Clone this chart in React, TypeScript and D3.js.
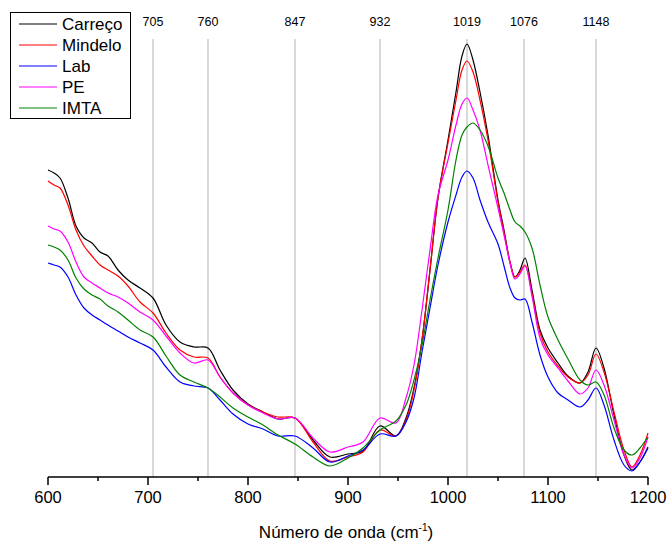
import React from "react";
import * as d3 from "d3";

// wavenumbers (cm-1) sampled along the spectra
const wavenumbers = [600, 606, 612, 620, 628, 636, 644, 652, 660, 670, 680, 692, 705, 718, 732, 746, 760, 772, 785, 800, 815, 830, 847, 865, 882, 900, 915, 932, 948, 958, 966, 974, 982, 990, 1000, 1008, 1014, 1019, 1025, 1032, 1040, 1050, 1056, 1062, 1067, 1072, 1077, 1084, 1092, 1100, 1110, 1120, 1132, 1140, 1148, 1156, 1166, 1176, 1184, 1192, 1200];

const carreco = [0.307, 0.304, 0.299, 0.279, 0.251, 0.239, 0.234, 0.225, 0.221, 0.207, 0.197, 0.189, 0.179, 0.152, 0.135, 0.130, 0.129, 0.107, 0.087, 0.073, 0.065, 0.058, 0.059, 0.037, 0.020, 0.023, 0.026, 0.051, 0.041, 0.059, 0.089, 0.137, 0.207, 0.279, 0.337, 0.385, 0.421, 0.433, 0.417, 0.385, 0.342, 0.277, 0.247, 0.215, 0.200, 0.207, 0.219, 0.187, 0.147, 0.129, 0.114, 0.101, 0.094, 0.105, 0.129, 0.109, 0.062, 0.022, 0.007, 0.015, 0.030];
const mindelo = [0.296, 0.292, 0.289, 0.272, 0.247, 0.231, 0.221, 0.212, 0.207, 0.201, 0.191, 0.175, 0.164, 0.144, 0.127, 0.120, 0.119, 0.100, 0.084, 0.072, 0.065, 0.060, 0.059, 0.035, 0.016, 0.020, 0.025, 0.047, 0.041, 0.057, 0.087, 0.137, 0.207, 0.279, 0.334, 0.377, 0.407, 0.416, 0.405, 0.377, 0.337, 0.275, 0.245, 0.215, 0.200, 0.205, 0.212, 0.183, 0.144, 0.125, 0.111, 0.100, 0.094, 0.102, 0.123, 0.105, 0.065, 0.027, 0.010, 0.022, 0.044];
const lab = [0.214, 0.212, 0.210, 0.200, 0.182, 0.169, 0.162, 0.157, 0.152, 0.146, 0.140, 0.134, 0.127, 0.110, 0.095, 0.091, 0.089, 0.077, 0.063, 0.053, 0.048, 0.041, 0.041, 0.029, 0.015, 0.021, 0.027, 0.043, 0.041, 0.055, 0.079, 0.125, 0.169, 0.212, 0.255, 0.282, 0.300, 0.306, 0.299, 0.277, 0.255, 0.233, 0.211, 0.189, 0.179, 0.177, 0.178, 0.155, 0.122, 0.100, 0.084, 0.077, 0.070, 0.077, 0.089, 0.072, 0.037, 0.012, 0.006, 0.015, 0.029];
const pe = [0.251, 0.248, 0.246, 0.235, 0.215, 0.200, 0.194, 0.189, 0.184, 0.180, 0.174, 0.165, 0.157, 0.141, 0.124, 0.114, 0.117, 0.100, 0.084, 0.072, 0.064, 0.058, 0.059, 0.039, 0.025, 0.030, 0.035, 0.059, 0.054, 0.079, 0.112, 0.167, 0.227, 0.282, 0.317, 0.352, 0.373, 0.379, 0.367, 0.347, 0.312, 0.269, 0.242, 0.214, 0.198, 0.203, 0.211, 0.181, 0.139, 0.122, 0.109, 0.096, 0.083, 0.089, 0.107, 0.092, 0.057, 0.022, 0.009, 0.019, 0.040];
const imta = [0.232, 0.230, 0.227, 0.217, 0.199, 0.188, 0.182, 0.178, 0.171, 0.165, 0.157, 0.147, 0.140, 0.121, 0.102, 0.095, 0.089, 0.080, 0.069, 0.060, 0.052, 0.042, 0.033, 0.020, 0.011, 0.019, 0.029, 0.047, 0.056, 0.072, 0.097, 0.132, 0.177, 0.219, 0.267, 0.317, 0.342, 0.350, 0.354, 0.347, 0.331, 0.299, 0.284, 0.267, 0.255, 0.251, 0.245, 0.229, 0.192, 0.160, 0.137, 0.118, 0.097, 0.092, 0.095, 0.082, 0.049, 0.027, 0.022, 0.029, 0.040];

const seriesNames = ["Carreço", "Mindelo", "Lab", "PE", "IMTA"];
const seriesValues = [carreco, mindelo, lab, pe, imta];
const seriesColors = ["#000000", "#ff0000", "#0000ff", "#ff00ff", "#008000"];

const bandPositions = [705, 760, 847, 932, 1019, 1076, 1148];
const xTicks = [600, 700, 800, 900, 1000, 1100, 1200];
const xMinorTicks = [650, 750, 850, 950, 1050, 1150];

const width = 670;
const height = 541;
const font = "'Liberation Sans', Arial, sans-serif";

export default function App() {
  const x = d3.scaleLinear().domain([600, 1200]).range([48, 648]);
  const y = d3.scaleLinear().domain([0, 0.44]).range([477, 37]);

  const line = d3
    .line<number>()
    .x((_, i) => x(wavenumbers[i]))
    .y((d) => y(d))
    .curve(d3.curveCatmullRom.alpha(0.5));

  const axisY = y(0);

  return (
    <svg
      width={width}
      height={height}
      style={{ position: "absolute", left: 0, top: 0, background: "#fff" }}
      fontFamily={font}
    >
      {/* band markers */}
      {bandPositions.map((b) => (
        <g key={b}>
          <line x1={x(b)} x2={x(b)} y1={39} y2={axisY} stroke="#c4c4c4" strokeWidth={1.3} />
          <text x={x(b)} y={26} textAnchor="middle" fontSize={12.5}>
            {b}
          </text>
        </g>
      ))}

      {/* spectra */}
      {seriesValues.map((vals, i) => (
        <path key={seriesNames[i]} d={line(vals) ?? ""} fill="none" stroke={seriesColors[i]} strokeWidth={1.2} />
      ))}

      {/* x axis */}
      <line x1={x(600)} x2={x(1200)} y1={axisY} y2={axisY} stroke="#000" strokeWidth={1.5} />
      {xTicks.map((t) => (
        <g key={t}>
          <line x1={x(t)} x2={x(t)} y1={axisY} y2={axisY + 8} stroke="#000" strokeWidth={1.5} />
          <text x={x(t)} y={axisY + 26} textAnchor="middle" fontSize={16.5}>
            {t}
          </text>
        </g>
      ))}
      {xMinorTicks.map((t) => (
        <line key={t} x1={x(t)} x2={x(t)} y1={axisY} y2={axisY + 4} stroke="#000" strokeWidth={1.5} />
      ))}
      <text x={346} y={538} textAnchor="middle" fontSize={17}>
        Número de onda (cm<tspan dy={-7} fontSize={10}>-1</tspan>
        <tspan dy={7}>)</tspan>
      </text>

      {/* legend */}
      <rect x={10.5} y={12.5} width={120} height={106} fill="#fff" stroke="#000" strokeWidth={1} />
      {seriesNames.map((n, i) => (
        <g key={n}>
          <line x1={19} x2={57} y1={24 + i * 21} y2={24 + i * 21} stroke={seriesColors[i]} strokeWidth={1.2} />
          <text x={62} y={30 + i * 21} fontSize={17}>
            {n}
          </text>
        </g>
      ))}
    </svg>
  );
}
